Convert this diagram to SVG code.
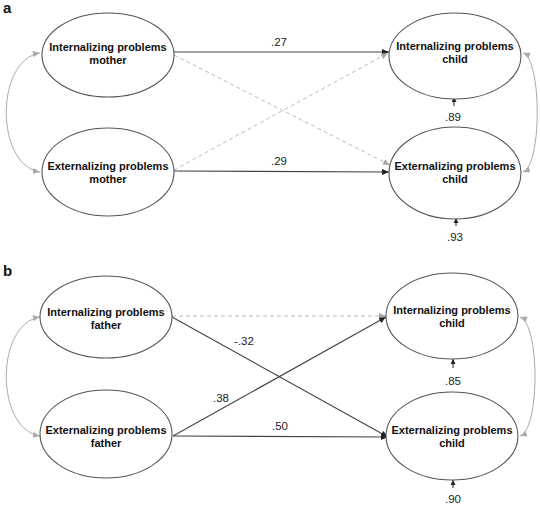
<svg xmlns="http://www.w3.org/2000/svg" width="540" height="506" viewBox="0 0 540 506">
<style>
.node ellipse{fill:#fff;stroke:#555;stroke-width:1.1}
.nt{font-family:"Liberation Sans",Arial,sans-serif;font-size:11px;font-weight:bold;fill:#111;text-anchor:middle}
.lab{font-family:"Liberation Sans",Arial,sans-serif;font-size:11.5px;fill:#222;text-anchor:middle}
.panel{font-family:"Liberation Sans",Arial,sans-serif;font-size:15px;font-weight:bold;fill:#111}
.solid{fill:none;stroke:#444;stroke-width:1.1;marker-end:url(#ad)}
.dash{fill:none;stroke:#bbb;stroke-width:1;stroke-dasharray:4,3;marker-end:url(#ag)}
.cov{fill:none;stroke:#aaa;stroke-width:1;marker-start:url(#agS);marker-end:url(#ag)}
.res{fill:none;stroke:#222;stroke-width:1;marker-end:url(#as)}
</style>
<defs>
<marker id="ad" markerUnits="userSpaceOnUse" markerWidth="8" markerHeight="6" refX="7" refY="3" orient="auto"><path d="M0,0 L7,3 L0,6 z" fill="#222"/></marker>
<marker id="as" markerUnits="userSpaceOnUse" markerWidth="6" markerHeight="5" refX="5" refY="2.5" orient="auto"><path d="M0,0 L5,2.5 L0,5 z" fill="#222"/></marker>
<marker id="ag" markerUnits="userSpaceOnUse" markerWidth="8" markerHeight="6" refX="7" refY="3" orient="auto"><path d="M0,0 L7,3 L0,6 z" fill="#aaa"/></marker>
<marker id="agS" markerUnits="userSpaceOnUse" markerWidth="8" markerHeight="6" refX="0" refY="3" orient="auto"><path d="M7,0 L0,3 L7,6 z" fill="#aaa"/></marker>
</defs>
<text class="panel" x="3" y="13">a</text>
<text class="panel" x="3" y="276">b</text>
<g id="connectors">
<path class="solid" d="M174 52 L389 52"/>
<path class="solid" d="M174 171 L389 172"/>
<path class="dash" d="M174 55 L390 165"/>
<path class="dash" d="M174 170 L388 53"/>
<path class="cov" d="M40 53 C-5 60,-5 165,40 172"/>
<path class="cov" d="M523 53 C542 60,542 165,523 172"/>
<path class="res" d="M454 106 L454 97"/>
<path class="res" d="M456 226 L456 218"/>
<path class="dash" d="M172 316 L386 316"/>
<path class="solid" d="M172 317 L388 437"/>
<path class="solid" d="M173 436 L386 317"/>
<path class="solid" d="M173 436 L388 437"/>
<path class="cov" d="M40 317 C-5 324,-5 429,40 436"/>
<path class="cov" d="M520 317 C540 324,540 429,520 436"/>
<path class="res" d="M453 368 L453 359"/>
<path class="res" d="M453 488 L453 480"/>
<text class="lab" x="279" y="46">.27</text>
<text class="lab" x="279" y="165">.29</text>
<text class="lab" x="453" y="121">.89</text>
<text class="lab" x="455" y="241">.93</text>
<text class="lab" x="244" y="345">-.32</text>
<text class="lab" x="221" y="402">.38</text>
<text class="lab" x="280" y="430">.50</text>
<text class="lab" x="453" y="385">.85</text>
<text class="lab" x="453" y="503">.90</text>
</g>
<g id="a-int-mother" class="node"><ellipse cx="108" cy="55" rx="66" ry="42"/><text class="nt" x="108" y="51">Internalizing problems</text><text class="nt" x="108" y="64">mother</text></g>
<g id="a-ext-mother" class="node"><ellipse cx="108" cy="172" rx="66" ry="44"/><text class="nt" x="108" y="170">Externalizing problems</text><text class="nt" x="108" y="183">mother</text></g>
<g id="a-int-child" class="node"><ellipse cx="455" cy="56" rx="66" ry="43"/><text class="nt" x="455" y="50">Internalizing problems</text><text class="nt" x="455" y="63">child</text></g>
<g id="a-ext-child" class="node"><ellipse cx="455" cy="173" rx="66" ry="46"/><text class="nt" x="455" y="170">Externalizing problems</text><text class="nt" x="455" y="183">child</text></g>
<g id="b-int-father" class="node"><ellipse cx="106" cy="317" rx="66" ry="41"/><text class="nt" x="106" y="316">Internalizing problems</text><text class="nt" x="106" y="329">father</text></g>
<g id="b-ext-father" class="node"><ellipse cx="106" cy="434" rx="66" ry="44"/><text class="nt" x="106" y="434">Externalizing problems</text><text class="nt" x="106" y="447">father</text></g>
<g id="b-int-child" class="node"><ellipse cx="452" cy="316" rx="66" ry="43"/><text class="nt" x="452" y="314">Internalizing problems</text><text class="nt" x="452" y="327">child</text></g>
<g id="b-ext-child" class="node"><ellipse cx="452" cy="436" rx="66" ry="44"/><text class="nt" x="452" y="434">Externalizing problems</text><text class="nt" x="452" y="447">child</text></g>
</svg>
